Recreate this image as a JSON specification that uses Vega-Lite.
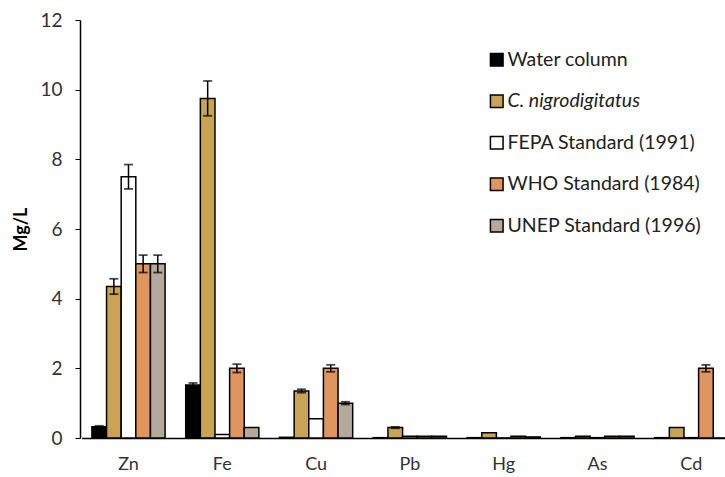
{
  "$schema": "https://vega.github.io/schema/vega-lite/v6.json",
  "autosize": "none",
  "width": 645,
  "height": 418,
  "padding": {"left": 80, "top": 20, "right": 0, "bottom": 39},
  "background": "white",
  "config": {"view": {"stroke": null}, "font": "Lato"},
  "data": {"values": [
    {"metal": "Zn", "series": "Water column", "value": 0.32, "lo": 0.29, "hi": 0.35},
    {"metal": "Zn", "series": "C. nigrodigitatus", "value": 4.35, "lo": 4.13, "hi": 4.57},
    {"metal": "Zn", "series": "FEPA Standard (1991)", "value": 7.5, "lo": 7.15, "hi": 7.85},
    {"metal": "Zn", "series": "WHO Standard (1984)", "value": 5.0, "lo": 4.75, "hi": 5.25},
    {"metal": "Zn", "series": "UNEP Standard (1996)", "value": 5.0, "lo": 4.75, "hi": 5.25},
    {"metal": "Fe", "series": "Water column", "value": 1.52, "lo": 1.46, "hi": 1.58},
    {"metal": "Fe", "series": "C. nigrodigitatus", "value": 9.75, "lo": 9.25, "hi": 10.25},
    {"metal": "Fe", "series": "FEPA Standard (1991)", "value": 0.1},
    {"metal": "Fe", "series": "WHO Standard (1984)", "value": 2.0, "lo": 1.88, "hi": 2.12},
    {"metal": "Fe", "series": "UNEP Standard (1996)", "value": 0.3},
    {"metal": "Cu", "series": "Water column", "value": 0.02},
    {"metal": "Cu", "series": "C. nigrodigitatus", "value": 1.35, "lo": 1.3, "hi": 1.4},
    {"metal": "Cu", "series": "FEPA Standard (1991)", "value": 0.55},
    {"metal": "Cu", "series": "WHO Standard (1984)", "value": 2.0, "lo": 1.9, "hi": 2.1},
    {"metal": "Cu", "series": "UNEP Standard (1996)", "value": 1.0, "lo": 0.96, "hi": 1.04},
    {"metal": "Pb", "series": "Water column", "value": 0.01},
    {"metal": "Pb", "series": "C. nigrodigitatus", "value": 0.3, "lo": 0.28, "hi": 0.32},
    {"metal": "Pb", "series": "FEPA Standard (1991)", "value": 0.05},
    {"metal": "Pb", "series": "WHO Standard (1984)", "value": 0.05},
    {"metal": "Pb", "series": "UNEP Standard (1996)", "value": 0.05},
    {"metal": "Hg", "series": "Water column", "value": 0.01},
    {"metal": "Hg", "series": "C. nigrodigitatus", "value": 0.15},
    {"metal": "Hg", "series": "FEPA Standard (1991)", "value": 0.001},
    {"metal": "Hg", "series": "WHO Standard (1984)", "value": 0.05},
    {"metal": "Hg", "series": "UNEP Standard (1996)", "value": 0.03},
    {"metal": "As", "series": "Water column", "value": 0.01},
    {"metal": "As", "series": "C. nigrodigitatus", "value": 0.05},
    {"metal": "As", "series": "FEPA Standard (1991)", "value": 0.01},
    {"metal": "As", "series": "WHO Standard (1984)", "value": 0.05},
    {"metal": "As", "series": "UNEP Standard (1996)", "value": 0.05},
    {"metal": "Cd", "series": "Water column", "value": 0.01},
    {"metal": "Cd", "series": "C. nigrodigitatus", "value": 0.3},
    {"metal": "Cd", "series": "FEPA Standard (1991)", "value": 0.01},
    {"metal": "Cd", "series": "WHO Standard (1984)", "value": 2.0, "lo": 1.9, "hi": 2.1},
    {"metal": "Cd", "series": "UNEP Standard (1996)", "value": 0.0}
  ]},
  "encoding": {
    "x": {
      "field": "metal", "type": "nominal",
      "sort": ["Zn", "Fe", "Cu", "Pb", "Hg", "As", "Cd"],
      "scale": {"range": [1.6, 658.2], "paddingInner": 0.22, "paddingOuter": 0.11},
      "axis": {"title": null, "labelAngle": 0, "ticks": false, "domainColor": "black", "domainWidth": 1.5,
               "labelFontSize": 18, "labelColor": "#333", "labelPadding": 17, "labelFont": "Lato"}
    },
    "xOffset": {
      "field": "series", "type": "nominal",
      "sort": ["Water column", "C. nigrodigitatus", "FEPA Standard (1991)", "WHO Standard (1984)", "UNEP Standard (1996)"],
      "scale": {"paddingInner": 0, "paddingOuter": 0}
    }
  },
  "layer": [
    {
      "mark": {"type": "bar", "stroke": "black", "strokeWidth": 1.5},
      "encoding": {
        "y": {
          "field": "value", "type": "quantitative",
          "scale": {"domain": [0, 12]},
          "axis": {"title": "Mg/L", "titleFontSize": 18, "titleFontWeight": "bold", "titleColor": "black", "titlePadding": 9,
                   "values": [0, 2, 4, 6, 8, 10, 12], "grid": false, "tickSize": 5, "tickColor": "black",
                   "domainColor": "black", "domainWidth": 1.5, "labelFontSize": 19, "labelColor": "#333", "labelPadding": 13}
        },
        "fill": {
          "field": "series", "type": "nominal",
          "sort": ["Water column", "C. nigrodigitatus", "FEPA Standard (1991)", "WHO Standard (1984)", "UNEP Standard (1996)"],
          "scale": {"range": ["#000000", "#C9A454", "#FFFFFF", "#E0955E", "#B5A99C"]},
          "legend": {
            "title": null, "orient": "none", "legendX": 407, "legendY": 30,
            "symbolType": "square", "symbolSize": 160, "symbolStrokeColor": "black", "symbolStrokeWidth": 1.5,
            "labelFontSize": 19.5, "labelColor": "#222", "labelOffset": 1, "rowPadding": 20.5, "labelLimit": 300,
            "encoding": {"labels": {"fontStyle": {"condition": {"test": "datum.label == 'C. nigrodigitatus'", "value": "italic"}, "value": "normal"}}}
          }
        }
      }
    },
    {
      "transform": [{"filter": "isValid(datum.hi)"}],
      "mark": {"type": "rule", "color": "black", "strokeWidth": 1.5},
      "encoding": {"y": {"field": "lo", "type": "quantitative"}, "y2": {"field": "hi"}}
    },
    {
      "transform": [{"filter": "isValid(datum.hi)"}],
      "mark": {"type": "tick", "color": "black", "size": 9, "thickness": 1.8},
      "encoding": {"y": {"field": "lo", "type": "quantitative"}}
    },
    {
      "transform": [{"filter": "isValid(datum.hi)"}],
      "mark": {"type": "tick", "color": "black", "size": 9, "thickness": 1.8},
      "encoding": {"y": {"field": "hi", "type": "quantitative"}}
    }
  ]
}
